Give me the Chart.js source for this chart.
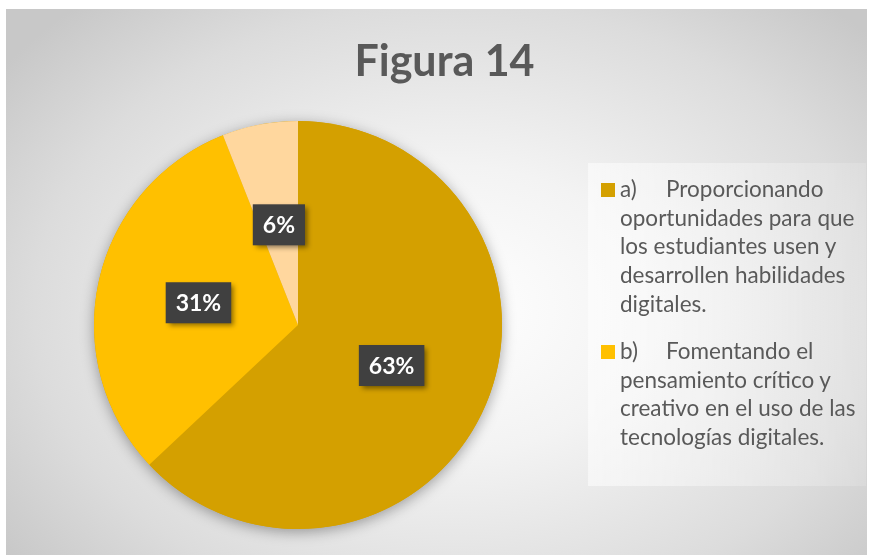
<!DOCTYPE html>
<html>
<head>
<meta charset="utf-8">
<script src="https://cdn.jsdelivr.net/npm/chart.js@4.4.0/dist/chart.umd.min.js"></script>
<style>
    html, body { margin: 0; padding: 0; background: #fff; }
    body { width: 871px; height: 555px; position: relative; overflow: hidden; font-family: Lato, "Open Sans", sans-serif; }
    .chart-box {
        position: absolute; left: 6px; top: 9px; width: 861px; height: 546px;
        background: radial-gradient(ellipse 65% 75% at 52% 55%, #ffffff 0%, #f3f3f3 35%, #dcdcdc 75%, #c8c8c8 100%);
    }
    .chart-box canvas { position: absolute; left: 0; top: 0; }
    .chart-title {
        position: absolute; left: 8px; width: 100%; top: 25px; text-align: center;
        font-size: 43px; font-weight: bold; color: #595959;
    }
    .legend-box {
        position: absolute; left: 582px; top: 154px; width: 278px; height: 323px;
        background: linear-gradient(90deg, rgba(255,255,255,0.55), rgba(255,255,255,0.15));
    }
    .legend-item { position: absolute; left: 32px; width: 246px; font-size: 22.5px; line-height: 28.7px; color: #595959; }
    .legend-item .swatch { position: absolute; left: -19px; top: 8px; width: 14px; height: 14px; }
    .legend-item .tag { display: inline-block; width: 46px; }
</style>
</head>
<body>
<div class="chart-box">
    <canvas id="pieChart" width="861" height="546"></canvas>
    <div class="chart-title">Figura 14</div>
    <div class="legend-box" id="legend"></div>
</div>
<script>
const tags = ['a)', 'b)', 'c)'];
const categories = [
    'Proporcionando oportunidades para que los estudiantes usen y desarrollen habilidades digitales.',
    'Fomentando el pensamiento crítico y creativo en el uso de las tecnologías digitales.',
    ''
];
const percentages = [63, 31, 6];
const sliceColors = ['#D4A000', '#FFC000', '#FFD79E'];
const legendShown = 2; // the third entry is cut off in the original

// soft shadow under the whole pie
const pieShadow = {
    id: 'pieShadow',
    beforeDatasetsDraw(chart) {
        const arc = chart.getDatasetMeta(0).data[0];
        const ctx = chart.ctx;
        ctx.save();
        ctx.shadowColor = 'rgba(0,0,0,0.35)';
        ctx.shadowBlur = 14;
        ctx.shadowOffsetY = 3;
        ctx.fillStyle = sliceColors[0];
        ctx.beginPath();
        ctx.arc(arc.x, arc.y, arc.outerRadius, 0, Math.PI * 2);
        ctx.fill();
        ctx.restore();
    }
};

// dark boxed percentage labels
const boxLabels = {
    id: 'boxLabels',
    afterDatasetsDraw(chart) {
        const ctx = chart.ctx;
        const meta = chart.getDatasetMeta(0);
        ctx.save();
        ctx.font = 'bold 23px Lato, "Open Sans", sans-serif';
        ctx.textAlign = 'center';
        ctx.textBaseline = 'middle';
        meta.data.forEach((arc, i) => {
            const pos = arc.tooltipPosition();
            const text = percentages[i] + '%';
            const w = ctx.measureText(text).width + 20;
            const h = 41;
            ctx.save();
            ctx.shadowColor = 'rgba(0,0,0,0.45)';
            ctx.shadowBlur = 5;
            ctx.shadowOffsetX = 3;
            ctx.shadowOffsetY = 3;
            ctx.fillStyle = '#404040';
            ctx.fillRect(pos.x - w / 2, pos.y - h / 2, w, h);
            ctx.restore();
            ctx.fillStyle = '#ffffff';
            ctx.fillText(text, pos.x, pos.y + 1);
        });
        ctx.restore();
    }
};

const chart = new Chart(document.getElementById('pieChart'), {
    type: 'pie',
    data: {
        labels: categories.map((c, i) => tags[i] + ' ' + c),
        datasets: [{
            data: percentages,
            backgroundColor: sliceColors,
            borderWidth: 0,
            hoverOffset: 0
        }]
    },
    options: {
        responsive: false,
        animation: false,
        events: [],
        layout: { padding: { left: 88, right: 365, top: 112, bottom: 26 } },
        plugins: {
            legend: { display: false },
            tooltip: { enabled: false },
            title: { display: false }
        }
    },
    plugins: [pieShadow, boxLabels]
});

// legend built from the same arrays
const legendEl = document.getElementById('legend');
let itemTop = 12;
for (let i = 0; i < legendShown; i++) {
    const item = document.createElement('div');
    item.className = 'legend-item';
    item.style.top = itemTop + 'px';
    item.innerHTML = `<span class="swatch" style="background:${sliceColors[i]}"></span><span class="tag">${tags[i]}</span>${categories[i]}`;
    legendEl.appendChild(item);
    itemTop += item.offsetHeight + 18;
}
</script>
</body>
</html>
